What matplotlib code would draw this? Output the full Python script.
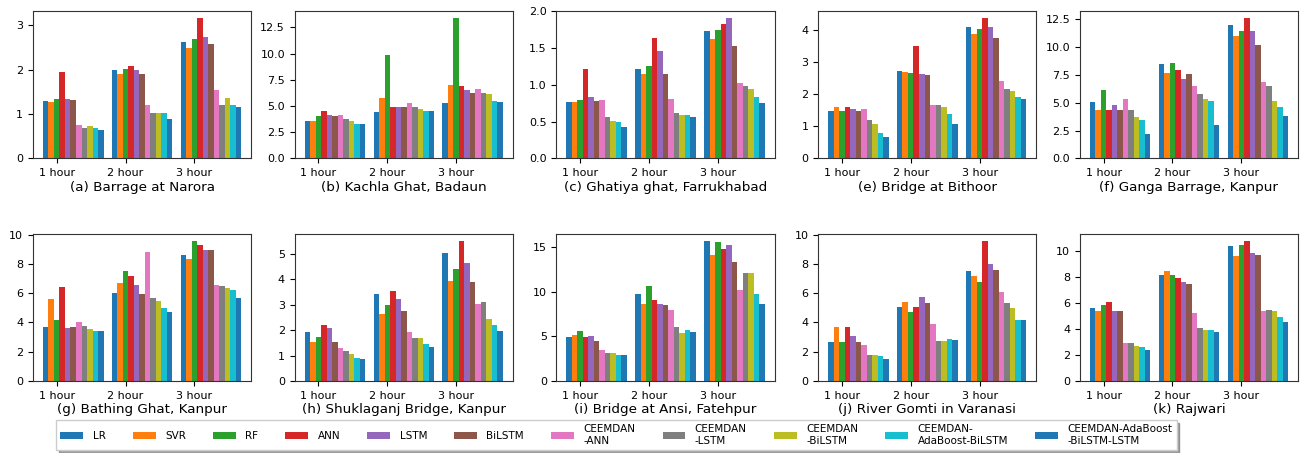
import numpy as np
import matplotlib.pyplot as plt

hours = ["1 hour", "2 hour", "3 hour"]
models = ["LR", "SVR", "RF", "ANN", "LSTM", "BiLSTM", "CEEMDAN\n-ANN", "CEEMDAN\n-LSTM",
          "CEEMDAN\n-BiLSTM", "CEEMDAN-\nAdaBoost-BiLSTM", "CEEMDAN-AdaBoost\n-BiLSTM-LSTM"]
colors = ["tab:blue", "tab:orange", "tab:green", "tab:red", "tab:purple", "tab:brown",
          "tab:pink", "tab:gray", "tab:olive", "tab:cyan", "tab:blue"]

titles = ["(a) Barrage at Narora", "(b) Kachla Ghat, Badaun", "(c) Ghatiya ghat, Farrukhabad",
          "(e) Bridge at Bithoor", "(f) Ganga Barrage, Kanpur", "(g) Bathing Ghat, Kanpur",
          "(h) Shuklaganj Bridge, Kanpur", "(i) Bridge at Ansi, Fatehpur",
          "(j) River Gomti in Varanasi", "(k) Rajwari"]

# rows = 1/2/3 hour, columns = models
narora = [[1.29, 1.26, 1.34, 1.94, 1.34, 1.31, 0.75, 0.68, 0.73, 0.68, 0.64],
          [1.99, 1.90, 2.01, 2.08, 1.99, 1.90, 1.20, 1.02, 1.02, 1.02, 0.89],
          [2.62, 2.48, 2.69, 3.16, 2.73, 2.57, 1.54, 1.20, 1.36, 1.20, 1.16]]
kachla = [[3.56, 3.56, 4.04, 4.52, 4.13, 4.04, 4.13, 3.75, 3.56, 3.28, 3.28],
          [4.42, 5.76, 9.86, 4.90, 4.90, 4.90, 5.28, 4.90, 4.71, 4.52, 4.52],
          [5.28, 7.00, 13.39, 6.90, 6.52, 6.23, 6.62, 6.23, 6.14, 5.47, 5.38]]
ghatiya = [[0.77, 0.77, 0.80, 1.21, 0.84, 0.78, 0.80, 0.57, 0.51, 0.50, 0.43],
           [1.21, 1.15, 1.26, 1.64, 1.46, 1.15, 0.81, 0.62, 0.59, 0.59, 0.57],
           [1.74, 1.63, 1.75, 1.83, 1.91, 1.53, 1.02, 0.99, 0.95, 0.83, 0.76]]
bithoor = [[1.48, 1.61, 1.48, 1.61, 1.54, 1.48, 1.54, 1.20, 1.08, 0.80, 0.67],
           [2.73, 2.69, 2.66, 3.50, 2.63, 2.60, 1.67, 1.67, 1.61, 1.39, 1.08],
           [4.09, 3.88, 4.03, 4.37, 4.09, 3.75, 2.41, 2.17, 2.10, 1.92, 1.85]]
ganga = [[5.08, 4.37, 6.16, 4.37, 4.81, 4.37, 5.35, 4.37, 3.74, 3.47, 2.21],
         [8.49, 7.69, 8.58, 7.95, 7.15, 7.60, 6.52, 5.80, 5.35, 5.17, 3.02],
         [11.99, 11.00, 11.45, 12.62, 11.45, 10.20, 6.88, 6.52, 5.17, 4.64, 3.83]]
bathing = [[3.67, 5.58, 4.15, 6.39, 3.61, 3.67, 4.01, 3.74, 3.54, 3.40, 3.40],
           [5.99, 6.67, 7.48, 7.14, 6.53, 5.92, 8.78, 5.65, 5.44, 4.97, 4.69],
           [8.64, 8.30, 9.59, 9.32, 8.98, 8.98, 6.53, 6.46, 6.33, 6.19, 5.65]]
shuklaganj = [[1.91, 1.52, 1.75, 2.22, 2.10, 1.52, 1.28, 1.20, 1.08, 0.89, 0.85],
              [3.44, 2.65, 3.01, 3.56, 3.24, 2.77, 1.91, 1.71, 1.71, 1.44, 1.32],
              [5.06, 3.92, 4.43, 5.53, 4.63, 3.88, 3.02, 3.10, 2.43, 2.20, 1.96]]
ansi = [[4.91, 5.14, 5.58, 4.91, 5.02, 4.47, 3.46, 3.13, 3.13, 2.90, 2.90],
        [9.71, 8.60, 10.61, 9.04, 8.60, 8.49, 7.93, 6.03, 5.36, 5.69, 5.47],
        [15.74, 14.07, 15.63, 14.85, 15.30, 13.29, 10.16, 12.06, 12.06, 9.71, 8.60]]
gomti = [[2.65, 3.67, 2.65, 3.67, 3.06, 2.65, 2.45, 1.77, 1.77, 1.70, 1.50],
         [5.03, 5.37, 4.69, 5.03, 5.71, 5.31, 3.88, 2.72, 2.72, 2.86, 2.79],
         [7.48, 7.14, 6.73, 9.59, 7.96, 7.55, 6.05, 5.31, 4.97, 4.15, 4.15]]
rajwari = [[5.60, 5.37, 5.83, 6.06, 5.37, 5.37, 2.92, 2.92, 2.69, 2.61, 2.38],
           [8.13, 8.44, 8.13, 7.90, 7.60, 7.44, 5.22, 4.07, 3.91, 3.91, 3.76],
           [10.43, 9.67, 10.51, 10.82, 9.90, 9.74, 5.37, 5.45, 5.37, 4.91, 4.53]]

stations = [narora, kachla, ghatiya, bithoor, ganga, bathing, shuklaganj, ansi, gomti, rajwari]

fig, axes = plt.subplots(2, 5, figsize=(13.06, 4.53), dpi=100)
plt.subplots_adjust(left=0.0253, right=0.9939, top=0.9757, bottom=0.159, wspace=0.2, hspace=0.51)

x = np.arange(len(hours))
w = 0.08
for ax, data, title in zip(axes.flat, stations, titles):
    data = np.array(data)
    for i in range(len(models)):
        ax.bar(x + i * w, data[:, i], width=w, color=colors[i], label=models[i])
    ax.set_xticks(x + 2 * w)
    ax.set_xticklabels(hours)
    ax.tick_params(labelsize=8)
    ax.set_xlabel(title, fontsize=9.7, labelpad=2)
    for s in ax.spines.values():
        s.set_color("#333333")

handles, labels = axes[0, 0].get_legend_handles_labels()
fig.legend(handles, labels, loc="lower center", bbox_to_anchor=(0.472, -0.005), ncol=11,
           fontsize=7.5, shadow=True, fancybox=False, handlelength=2.2, handleheight=0.7,
           handletextpad=0.9, columnspacing=2.6)

plt.savefig("out.png")
